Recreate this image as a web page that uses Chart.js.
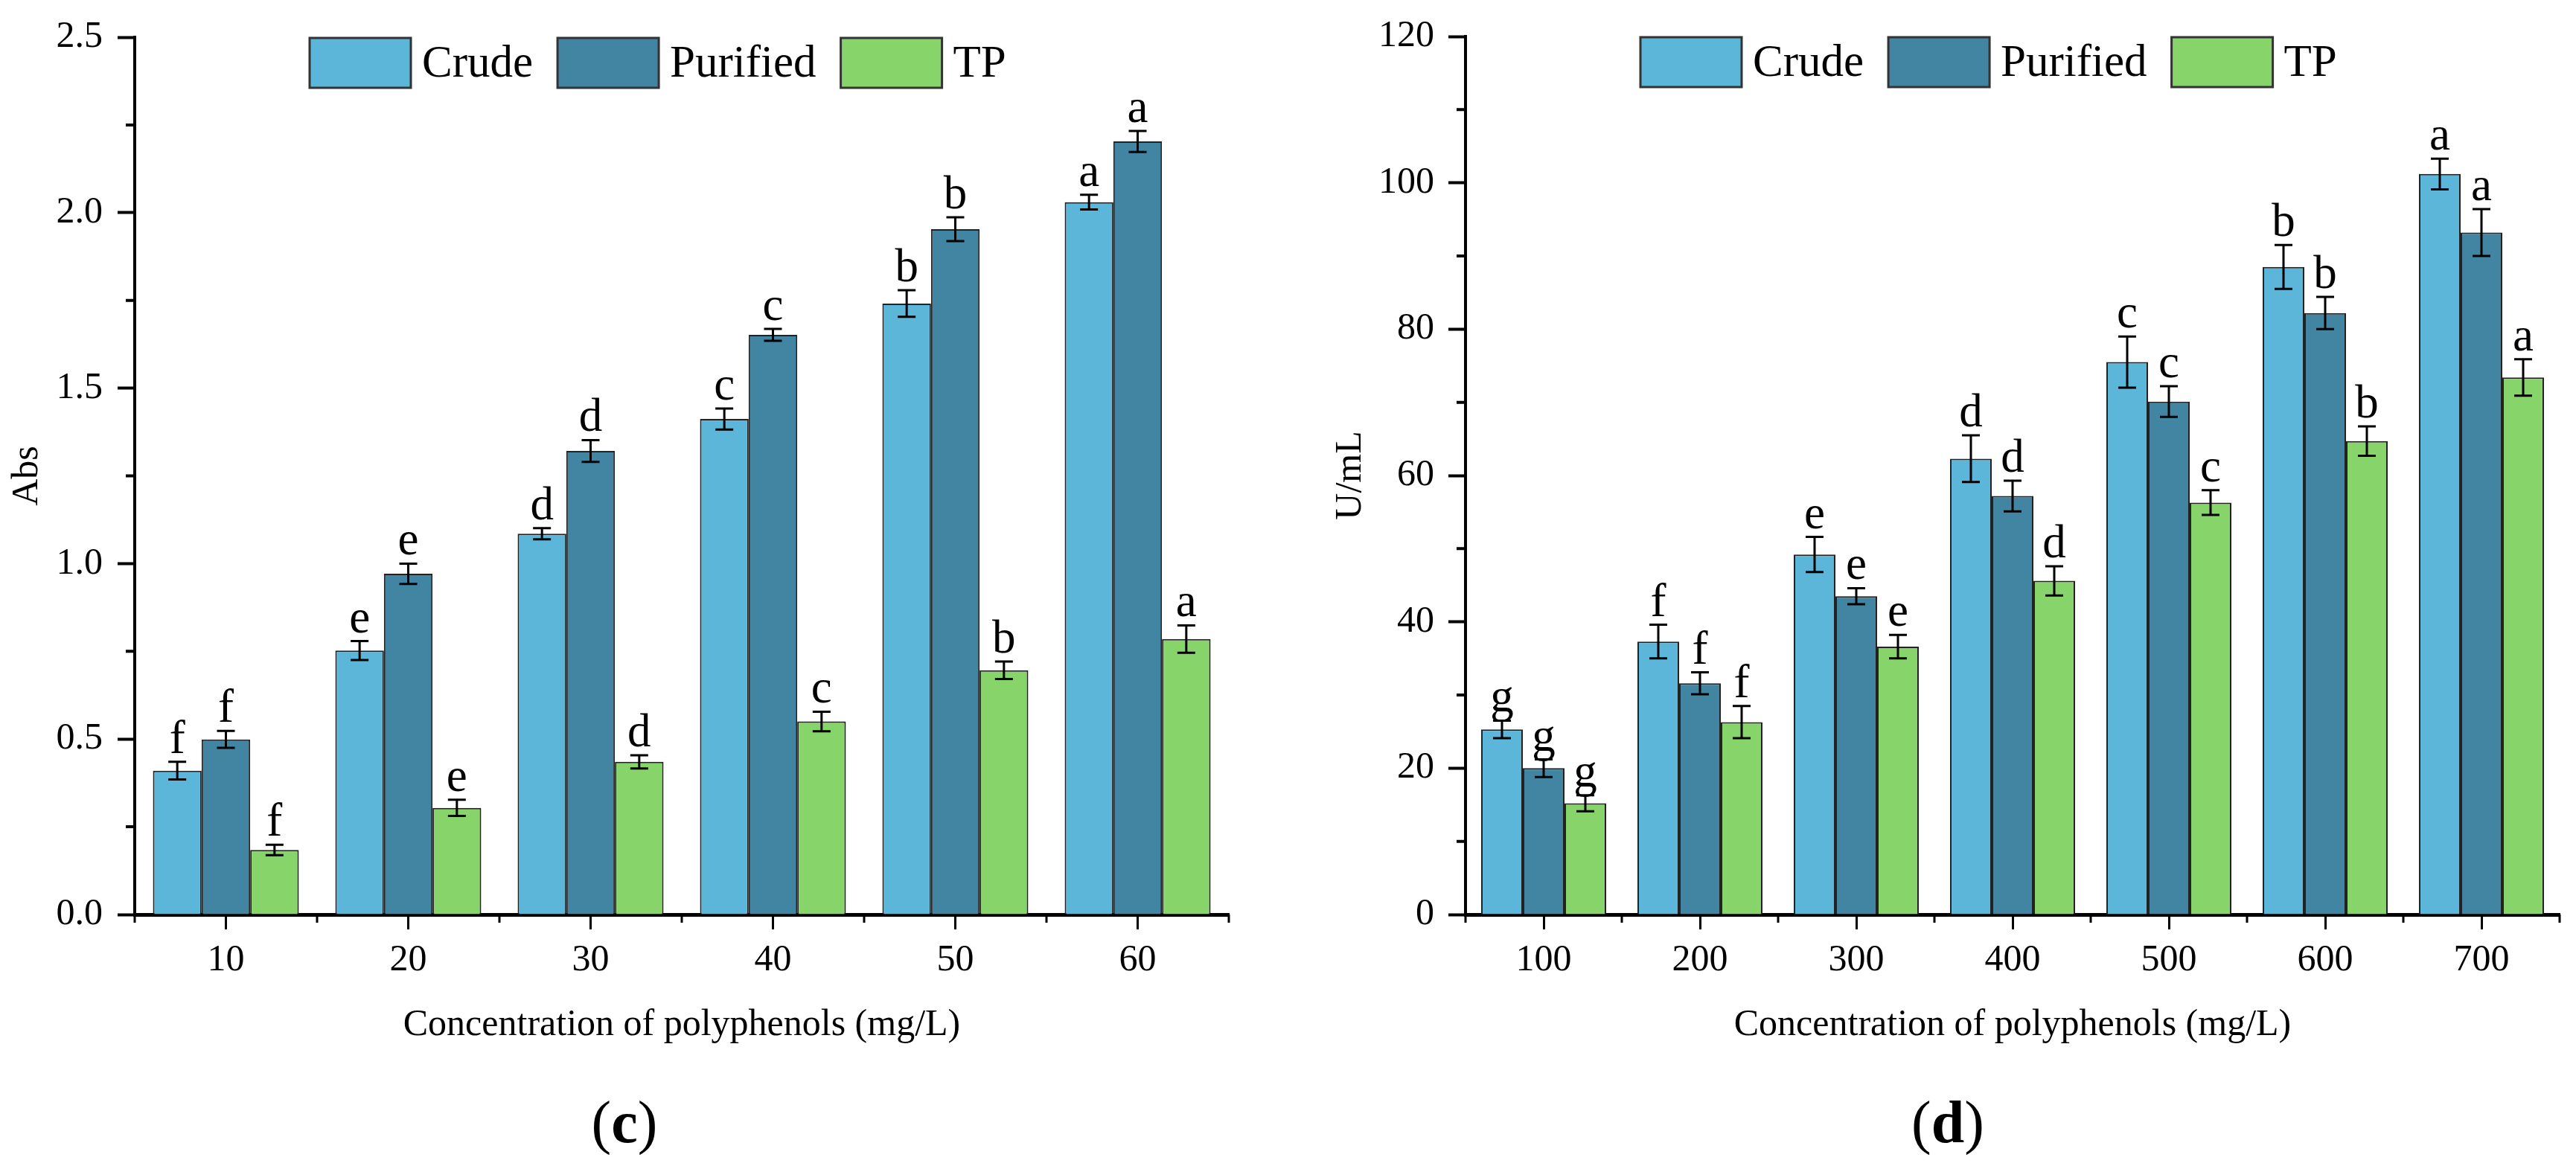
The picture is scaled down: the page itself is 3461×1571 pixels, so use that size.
<!DOCTYPE html>
<html>
<head>
    <title>Polyphenol activity (c) and (d)</title>
    <script src="https://cdn.jsdelivr.net/npm/chart.js"></script>
    <style>
        body {
            margin: 0;
            background: #fff;
            width: 3461px;
            height: 1571px;
            overflow: hidden;
            position: relative;
        }
        canvas {
            position: absolute;
            top: 0;
        }
        #chartC { left: 0; }
        #chartD { left: 1720px; }
    </style>
</head>
<body>
    <canvas id="chartC" width="1720" height="1571"></canvas>
    <canvas id="chartD" width="1741" height="1571"></canvas>

    <script>
        const SERIF = "'Liberation Serif', 'Times New Roman', serif";

        const seriesNames = ['Crude', 'Purified', 'TP'];
        const seriesColors = ['#5bb6da', '#4285a3', '#87d46a'];
        const xTitle = 'Concentration of polyphenols (mg/L)';

        // panel (c) - absorbance
        const concC = ['10', '20', '30', '40', '50', '60'];
        const crudeC = [0.41, 0.752, 1.085, 1.412, 1.741, 2.03];
        const purifiedC = [0.499, 0.971, 1.321, 1.652, 1.953, 2.203];
        const tpC = [0.184, 0.304, 0.435, 0.55, 0.696, 0.785];
        const crudeErrC = [0.025, 0.027, 0.016, 0.03, 0.038, 0.021];
        const purifiedErrC = [0.024, 0.029, 0.031, 0.017, 0.034, 0.03];
        const tpErrC = [0.015, 0.023, 0.019, 0.028, 0.025, 0.039];
        const crudeLetC = ['f', 'e', 'd', 'c', 'b', 'a'];
        const purifiedLetC = ['f', 'e', 'd', 'c', 'b', 'a'];
        const tpLetC = ['f', 'e', 'd', 'c', 'b', 'a'];

        // panel (d) - U/mL
        const concD = ['100', '200', '300', '400', '500', '600', '700'];
        const crudeD = [25.3, 37.3, 49.2, 62.3, 75.5, 88.5, 101.2];
        const purifiedD = [20.0, 31.6, 43.5, 57.2, 70.1, 82.2, 93.2];
        const tpD = [15.2, 26.3, 36.6, 45.6, 56.3, 64.7, 73.4];
        const crudeErrD = [1.2, 2.3, 2.4, 3.2, 3.5, 3.0, 2.1];
        const purifiedErrD = [1.2, 1.5, 1.1, 2.1, 2.1, 2.2, 3.2];
        const tpErrD = [1.1, 2.2, 1.6, 2.0, 1.7, 2.0, 2.5];
        const crudeLetD = ['g', 'f', 'e', 'd', 'c', 'b', 'a'];
        const purifiedLetD = ['g', 'f', 'e', 'd', 'c', 'b', 'a'];
        const tpLetD = ['g', 'f', 'e', 'd', 'c', 'b', 'a'];

        // draws error bars, letters, minor ticks, legend and the panel tag
        function extrasPlugin(errors, letters, panel, panelX) {
            return {
                id: 'extras',
                afterDraw(chart) {
                    const ctx = chart.ctx;
                    const xs = chart.scales.x, ys = chart.scales.y;
                    const area = chart.chartArea;
                    ctx.save();

                    // error bars + significance letters
                    chart.data.datasets.forEach(function(ds, di) {
                        chart.getDatasetMeta(di).data.forEach(function(bar, i) {
                            const v = ds.data[i], e = errors[di][i];
                            const yt = ys.getPixelForValue(v + e);
                            const yb = ys.getPixelForValue(v - e);
                            ctx.strokeStyle = '#000';
                            ctx.lineWidth = 3;
                            ctx.beginPath();
                            ctx.moveTo(bar.x, yt); ctx.lineTo(bar.x, yb);
                            ctx.moveTo(bar.x - 12, yt); ctx.lineTo(bar.x + 12, yt);
                            ctx.moveTo(bar.x - 12, yb); ctx.lineTo(bar.x + 12, yb);
                            ctx.stroke();
                            ctx.fillStyle = '#000';
                            ctx.font = '63px ' + SERIF;
                            ctx.textAlign = 'center';
                            ctx.textBaseline = 'alphabetic';
                            ctx.fillText(letters[di][i], bar.x, yt - 12);
                        });
                    });

                    // minor ticks on y (half way between labelled ticks)
                    ctx.strokeStyle = '#000';
                    ctx.lineWidth = 4;
                    ctx.beginPath();
                    for (let k = 0; k < ys.ticks.length - 1; k++) {
                        const mid = (ys.ticks[k].value + ys.ticks[k + 1].value) / 2;
                        const py = ys.getPixelForValue(mid);
                        ctx.moveTo(area.left - 12, py);
                        ctx.lineTo(area.left, py);
                    }
                    ctx.stroke();

                    // minor ticks on x (category boundaries)
                    const n = chart.data.labels.length;
                    const half = (xs.getPixelForValue(1) - xs.getPixelForValue(0)) / 2;
                    ctx.lineWidth = 3;
                    ctx.beginPath();
                    for (let i = 0; i <= n; i++) {
                        const px = xs.getPixelForValue(0) - half + i * half * 2;
                        ctx.moveTo(px, area.bottom);
                        ctx.lineTo(px, area.bottom + 11);
                    }
                    ctx.stroke();

                    // legend inside the plot, along the top
                    let lx = area.left + 235;
                    const ly = area.top + 1;
                    chart.data.datasets.forEach(function(ds) {
                        ctx.fillStyle = ds.backgroundColor;
                        ctx.fillRect(lx, ly, 136, 67);
                        ctx.strokeStyle = '#333';
                        ctx.lineWidth = 3;
                        ctx.strokeRect(lx, ly, 136, 67);
                        ctx.fillStyle = '#000';
                        ctx.font = '61px ' + SERIF;
                        ctx.textAlign = 'left';
                        ctx.textBaseline = 'middle';
                        ctx.fillText(ds.label, lx + 151, ly + 36);
                        lx += 151 + ctx.measureText(ds.label).width + 33;
                    });

                    // panel tag: "(" regular, letter bold, ")" regular
                    const reg = '80px ' + SERIF, bold = 'bold 80px ' + SERIF;
                    ctx.font = reg;
                    const wp = ctx.measureText('(').width;
                    ctx.font = bold;
                    const wl = ctx.measureText(panel).width;
                    let tx = panelX - (wp * 2 + wl) / 2;
                    ctx.textAlign = 'left';
                    ctx.textBaseline = 'alphabetic';
                    ctx.font = reg; ctx.fillText('(', tx, 1535); tx += wp;
                    ctx.font = bold; ctx.fillText(panel, tx, 1535); tx += wl;
                    ctx.font = reg; ctx.fillText(')', tx, 1535);

                    ctx.restore();
                }
            };
        }

        function makePanel(id, labels, values, errors, letters, setup) {
            const datasets = values.map(function(vals, k) {
                return {
                    label: seriesNames[k],
                    data: vals,
                    backgroundColor: seriesColors[k],
                    borderColor: '#222',
                    borderWidth: 2,
                    categoryPercentage: 0.8,
                    barPercentage: 1.0
                };
            });

            return new Chart(document.getElementById(id), {
                type: 'bar',
                data: { labels: labels, datasets: datasets },
                plugins: [extrasPlugin(errors, letters, setup.panel, setup.panelX)],
                options: {
                    responsive: false,
                    animation: false,
                    events: [],
                    layout: {
                        padding: { top: setup.top, right: setup.right, bottom: 157, left: 0 }
                    },
                    plugins: {
                        legend: { display: false },
                        tooltip: { enabled: false }
                    },
                    scales: {
                        x: {
                            afterFit: function(scale) { scale.height = 185; },
                            border: { display: true, color: '#000', width: 5 },
                            grid: {
                                display: true, drawOnChartArea: false, offset: false,
                                tickLength: 20, tickWidth: 3, tickColor: '#000'
                            },
                            ticks: { color: '#000', padding: 12, font: { family: SERIF, size: 50 } },
                            title: {
                                display: true, text: xTitle, color: '#000',
                                font: { family: SERIF, size: 50 }, padding: { top: 0, bottom: 6 }
                            }
                        },
                        y: {
                            min: 0,
                            max: setup.yMax,
                            afterFit: function(scale) { scale.width = setup.yWidth; },
                            border: { display: true, color: '#000', width: 4 },
                            grid: {
                                display: true, drawOnChartArea: false,
                                tickLength: 23, tickWidth: 4, tickColor: '#000'
                            },
                            ticks: {
                                stepSize: setup.yStep,
                                padding: setup.tickPad,
                                color: '#000',
                                font: { family: SERIF, size: 50 },
                                callback: setup.fmt
                            },
                            title: {
                                display: true, text: setup.yTitle, color: '#000',
                                font: { family: SERIF, size: 50 }, padding: setup.titlePad
                            }
                        }
                    }
                }
            });
        }

        makePanel('chartC', concC,
            [crudeC, purifiedC, tpC],
            [crudeErrC, purifiedErrC, tpErrC],
            [crudeLetC, purifiedLetC, tpLetC],
            {
                yMax: 2.5, yStep: 0.5, yTitle: 'Abs', fmt: v => v.toFixed(1),
                yWidth: 181, tickPad: 20, titlePad: 7,
                top: 43, right: 69, panel: 'c', panelX: 839
            });

        makePanel('chartD', concD,
            [crudeD, purifiedD, tpD],
            [crudeErrD, purifiedErrD, tpErrD],
            [crudeLetD, purifiedLetD, tpLetD],
            {
                yMax: 120, yStep: 20, yTitle: 'U/mL', fmt: v => String(v),
                yWidth: 249, tickPad: 19, titlePad: 65,
                top: 48, right: 22, panel: 'd', panelX: 897
            });
    </script>
</body>
</html>
